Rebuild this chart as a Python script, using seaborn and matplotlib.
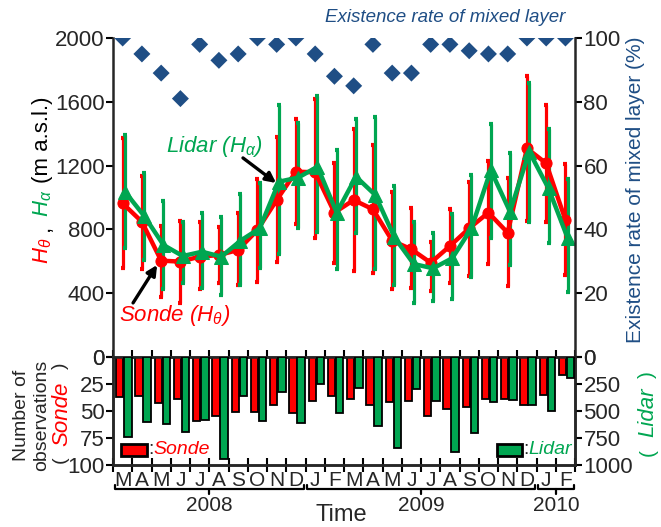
import numpy as np
import pandas as pd
import matplotlib
matplotlib.use("Agg")
import matplotlib.pyplot as plt
import matplotlib.transforms as mtransforms
from matplotlib.patches import Rectangle
import seaborn as sns

# Monthly statistics, March 2008 - February 2010
months = ['M', 'A', 'M', 'J', 'J', 'A', 'S', 'O', 'N', 'D',
          'J', 'F', 'M', 'A', 'M', 'J', 'J', 'A', 'S', 'O', 'N', 'D',
          'J', 'F']
years = ['2008', '2009', '2010']
year_spans = [(0, 9), (10, 21), (22, 23)]

# Mixed-layer height from radiosonde (H_theta), m a.s.l.
sonde_mean = [963, 848, 604, 598, 629, 639, 671, 796, 984, 1162,
              1158, 905, 984, 926, 729, 675, 591, 696, 807, 905, 779, 1308,
              1214, 859]
sonde_hi = [1371, 1135, 821, 853, 848, 817, 901, 1114, 1377, 1491,
            1615, 1214, 1429, 1329, 1036, 932, 723, 926, 1099, 1231, 1120, 1762,
            1580, 1208]
sonde_lo = [556, 550, 378, 341, 424, 466, 451, 472, 598, 836,
            744, 591, 541, 525, 424, 430, 416, 466, 508, 583, 445, 853,
            848, 514]

# Mixed-layer height from lidar (H_alpha), m a.s.l.
lidar_mean = [1036, 884, 702, 633, 660, 629, 729, 807, 1099, 1125,
              1193, 905, 1130, 1016, 750, 583, 556, 619, 807, 1172, 911, 1287,
              1057, 744]
lidar_hi = [1392, 1155, 980, 848, 905, 876, 1022, 1089, 1580, 1465,
            1636, 1298, 1490, 1507, 1072, 848, 775, 896, 1141, 1461, 1281, 1720,
            1427, 1114]
lidar_lo = [681, 608, 424, 462, 430, 389, 451, 556, 646, 807,
            786, 550, 775, 550, 451, 341, 353, 362, 500, 744, 577, 848,
            717, 409]

# Existence rate of mixed layer (%)
exist_rate = [100, 95, 89, 81, 98, 93, 95, 100, 98, 100,
              95, 88, 85, 98, 89, 89, 98, 98, 96, 95, 95, 100,
              100, 100]

# Number of observations
sonde_count = [37, 36, 43, 39, 59, 55, 51, 51, 44, 52,
               41, 36, 39, 44, 42, 41, 55, 48, 46, 39, 39, 44,
               35, 17]
lidar_count = [740, 603, 616, 697, 584, 944, 359, 594, 328, 609,
               250, 522, 284, 640, 844, 297, 406, 878, 706, 416, 400, 440,
               503, 190]

RED = '#FF0000'
GREEN = '#00A651'
BLUE = '#1F4E85'

sns.set_theme(style='ticks')
plt.rcParams['font.family'] = ['Liberation Sans', 'DejaVu Sans']
plt.rcParams['mathtext.fontset'] = 'custom'
plt.rcParams['mathtext.it'] = 'Liberation Sans:italic'
plt.rcParams['mathtext.rm'] = 'Liberation Sans'

x = np.arange(len(months))
df = pd.DataFrame({'x': x, 'sonde': sonde_mean, 'lidar': lidar_mean,
                   'rate': exist_rate})

fig = plt.figure(figsize=(6.61, 5.27), dpi=100)
ax = fig.add_axes([0.171, 0.3226, 0.699, 0.6053])
axr = ax.twinx()
ax2 = fig.add_axes([0.171, 0.1176, 0.699, 0.2049])
ax2r = ax2.twinx()

TICK_FS = 16
SPINE_W = 1.8

# ---- upper panel: mixed-layer heights ----
xs = x - 0.0
xl = x + 0.12
s_mean = np.array(sonde_mean); l_mean = np.array(lidar_mean)
ax.errorbar(xs, s_mean, yerr=[s_mean - np.array(sonde_lo), np.array(sonde_hi) - s_mean],
            fmt='none', ecolor=RED, elinewidth=2.3, capsize=1.6, capthick=3, zorder=2)
ax.errorbar(xl, l_mean, yerr=[l_mean - np.array(lidar_lo), np.array(lidar_hi) - l_mean],
            fmt='none', ecolor=GREEN, elinewidth=2.3, capsize=1.6, capthick=3, zorder=3)
sns.lineplot(x=xs, y=s_mean, ax=ax, color=RED, lw=3.2, marker='o', markersize=8,
             markeredgecolor=RED, zorder=4)
sns.lineplot(x=xl, y=l_mean, ax=ax, color=GREEN, lw=3.2, marker='^', markersize=10,
             markeredgecolor=GREEN, zorder=5)

ax.set_xlim(-0.5, len(months) - 0.5)
ax.set_ylim(0, 2000)
ax.set_yticks([0, 400, 800, 1200, 1600, 2000])
ax.set_xlabel('')
ax.set_ylabel('')
for s in ['top', 'bottom', 'right']:
    ax.spines[s].set_visible(False)
ax.spines['left'].set_linewidth(SPINE_W)
ax.set_xticks(np.arange(-0.5, len(months), 1))
ax.tick_params(axis='x', bottom=True, direction='in', length=5, width=1.5,
               labelbottom=False, color='black')
ax.tick_params(axis='y', labelsize=TICK_FS, length=5, width=1.5, pad=1, color='black')

# existence rate on the right axis
sns.scatterplot(data=df, x='x', y='rate', ax=axr, marker='D', s=75, color=BLUE,
                edgecolor='none', zorder=6)
axr.set_ylim(0, 100)
axr.set_yticks([0, 20, 40, 60, 80, 100])
axr.set_xlim(-0.5, len(months) - 0.5)
axr.set_xlabel('')
axr.set_ylabel('')
for s in ['top', 'bottom', 'left']:
    axr.spines[s].set_visible(False)
axr.spines['right'].set_linewidth(SPINE_W)
axr.tick_params(axis='y', labelsize=TICK_FS, length=5, width=1.5, pad=1, color='black')

# annotations with pointer arrows
ax.text(4.75, 1320, 'Lidar ($H_\\alpha$)', color=GREEN, fontsize=16, style='italic',
        ha='center', va='center')
ax.annotate('', xy=(7.97, 1091), xytext=(6.25, 1248),
            arrowprops=dict(arrowstyle='-|>', color='black', lw=2.4,
                            mutation_scale=15, shrinkA=0, shrinkB=0))
ax.text(2.7, 260, 'Sonde ($H_\\theta$)', color=RED, fontsize=16, style='italic',
        ha='center', va='center')
ax.annotate('', xy=(1.79, 577), xytext=(0.54, 339),
            arrowprops=dict(arrowstyle='-|>', color='black', lw=2.4,
                            mutation_scale=15, shrinkA=0, shrinkB=0))
fig.text(0.673, 0.966, 'Existence rate of mixed layer', color=BLUE, fontsize=13.5,
         style='italic', ha='center', va='center')

# ---- lower panel: number of observations ----
ax2.bar(x - 0.15, sonde_count, width=0.38, color=RED, edgecolor='black', linewidth=1.3,
        zorder=3)
ax2r.bar(x + 0.27, lidar_count, width=0.40, color=GREEN, edgecolor='black', linewidth=1.3,
         zorder=3)
ax2.set_xlim(-0.5, len(months) - 0.5)
ax2r.set_xlim(-0.5, len(months) - 0.5)
ax2.set_ylim(100, 0)
ax2r.set_ylim(1000, 0)
ax2.set_yticks([0, 25, 50, 75, 100])
ax2r.set_yticks([0, 250, 500, 750, 1000])
for a in (ax2, ax2r):
    for s in a.spines.values():
        s.set_linewidth(SPINE_W)
    a.tick_params(axis='y', labelsize=TICK_FS, length=5, width=1.5, pad=1, color='black')

ax2.set_xticks(np.arange(-0.5, len(months), 1))
ax2.set_xticklabels([])
ax2.set_xticks(x, minor=True)
ax2.set_xticklabels(months, minor=True, fontsize=15)
ax2.tick_params(axis='x', which='major', direction='inout', length=10, width=1.5,
                color='black')
ax2.tick_params(axis='x', which='minor', length=0, pad=4)
ax2r.tick_params(axis='x', bottom=False, top=False, labelbottom=False)

# legend boxes inside the lower panel
ax2.add_patch(Rectangle((0.017, 0.08), 0.056, 0.115, transform=ax2.transAxes,
                        facecolor=RED, edgecolor='black', lw=2, zorder=5))
ax2.text(0.077, 0.14, ':', transform=ax2.transAxes, fontsize=14, va='center', ha='left')
ax2.text(0.087, 0.14, 'Sonde', transform=ax2.transAxes, fontsize=14, va='center',
         ha='left', color=RED, style='italic')
ax2.add_patch(Rectangle((0.831, 0.08), 0.054, 0.115, transform=ax2.transAxes,
                        facecolor=GREEN, edgecolor='black', lw=2, zorder=5))
ax2.text(0.888, 0.14, ':', transform=ax2.transAxes, fontsize=14, va='center', ha='left')
ax2.text(0.898, 0.14, 'Lidar', transform=ax2.transAxes, fontsize=14, va='center',
         ha='left', color=GREEN, style='italic')

# year brackets under the month labels
tr = mtransforms.blended_transform_factory(ax2.transData, fig.transFigure)
y_line, y_end, y_mid = 0.073, 0.080, 0.063
for label, (i0, i1) in zip(years, year_spans):
    a0, a1 = i0 - 0.42, i1 + 0.42
    mid = (a0 + a1) / 2
    fig.add_artist(plt.Line2D([a0, a0, a1, a1], [y_end, y_line, y_line, y_end],
                              transform=tr, color='black', lw=1.6))
    fig.add_artist(plt.Line2D([mid, mid], [y_line, y_mid], transform=tr,
                              color='black', lw=1.6))
    fig.text(mid, 0.040, label, transform=tr, fontsize=15, ha='center', va='center')
fig.text(0.517, 0.022, 'Time', fontsize=17, ha='center', va='center')

# axis titles
fig.text(0.065, 0.524, '$H_\\theta$', color=RED, fontsize=16, rotation=90,
         ha='center', va='center')
fig.text(0.065, 0.567, ',', color='black', fontsize=16, rotation=90,
         ha='center', va='center')
fig.text(0.065, 0.615, '$H_\\alpha$', color=GREEN, fontsize=16, rotation=90,
         ha='center', va='center')
fig.text(0.065, 0.734, '(m a.s.l.)', color='black', fontsize=16, rotation=90,
         ha='center', va='center')
fig.text(0.961, 0.6395, 'Existence rate of mixed layer (%)', color=BLUE, fontsize=15,
         rotation=90, ha='center', va='center')

fig.text(0.033, 0.2125, 'Number of', fontsize=14, rotation=90, ha='center', va='center')
fig.text(0.063, 0.2125, 'observations', fontsize=14, rotation=90, ha='center',
         va='center')
fig.text(0.091, 0.128, '(', fontsize=14, rotation=90, ha='center', va='center')
fig.text(0.093, 0.2144, 'Sonde', fontsize=16, rotation=90, ha='center', va='center',
         color=RED, style='italic')
fig.text(0.091, 0.3055, ')', fontsize=14, rotation=90, ha='center', va='center')

fig.text(0.98, 0.142, '(', fontsize=15, rotation=90, ha='center', va='center',
         color=GREEN)
fig.text(0.98, 0.218, 'Lidar', fontsize=16, rotation=90, ha='center', va='center',
         color=GREEN, style='italic')
fig.text(0.98, 0.2885, ')', fontsize=15, rotation=90, ha='center', va='center',
         color=GREEN)

fig.savefig('out.png', dpi=100)
